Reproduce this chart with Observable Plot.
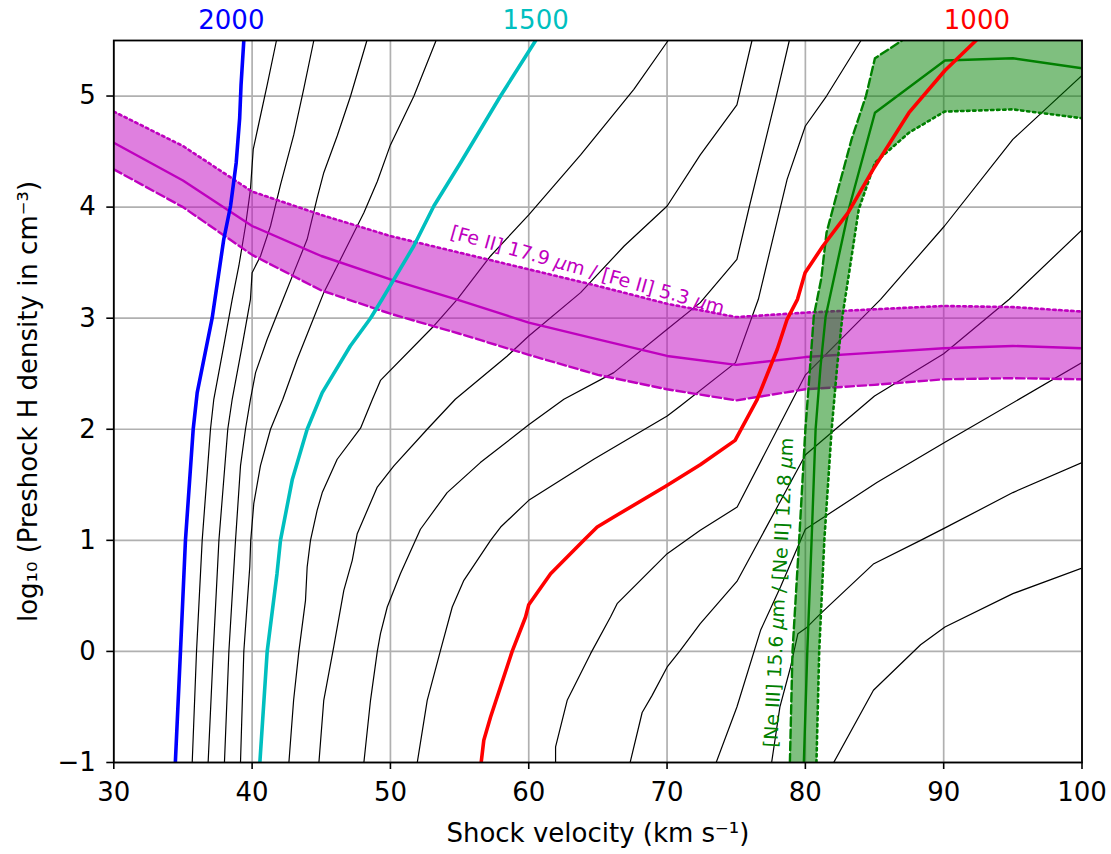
<!DOCTYPE html>
<html><head><meta charset="utf-8">
<script src="https://cdn.jsdelivr.net/npm/d3@7"></script>
<script src="https://cdn.jsdelivr.net/npm/@observablehq/plot@0.6"></script>
<style>
body{margin:0;background:#fff;}
svg{font-family:"DejaVu Sans",sans-serif;}
</style>
</head><body><div id="chart"></div>
<script>
// ---------- tick values ----------
const xTicks = [30, 40, 50, 60, 70, 80, 90, 100];
const yTicks = [-1, 0, 1, 2, 3, 4, 5];

// ---------- black contour lines (velocity, log density) ----------
const c1900 = [[35.67,-1],[35.98,0],[36.39,1],[36.99,2],[37.23,2.27],[37.95,2.75],[38.56,3.17],[39.04,3.47],[39.52,3.83],[39.88,4.16],[40.08,4.52],[40.41,4.71],[41.09,5.1],[41.76,5.5]];
const c1800 = [[36.82,-1],[37.19,0],[37.6,1],[38.24,2],[38.56,2.27],[39.28,2.75],[39.88,3.17],[40.0,3.41],[40.61,3.56],[41.33,3.83],[42.05,4.2],[43.01,4.65],[43.74,5.07],[44.46,5.5]];
const c1700 = [[38.0,-1],[38.32,0],[38.8,1],[39.16,1.67],[39.52,2],[39.88,2.27],[40.25,2.51],[41.09,2.81],[42.24,3.17],[43.01,3.41],[43.98,3.71],[44.7,4.08],[45.18,4.31],[46.15,4.64],[47.12,5.0],[48.3,5.5]];
const c1600 = [[39.16,-1],[39.4,0],[39.83,0.76],[39.9,1.0],[40.12,1.33],[40.6,1.67],[41.33,2.0],[42.22,2.27],[43.26,2.63],[44.22,2.93],[45.18,3.23],[46.15,3.47],[47.12,3.71],[48.08,3.95],[49.05,4.23],[50.0,4.56],[51.7,5.0],[53.3,5.5]];
const c1400 = [[42.66,-1],[43.0,-0.44],[43.38,0],[43.86,0.46],[43.98,0.76],[44.22,1.0],[44.7,1.27],[45.07,1.43],[46.15,1.73],[47.84,2.01],[48.7,2.27],[49.28,2.44],[53.14,2.93],[54.83,3.17],[57.24,3.56],[60.0,3.93],[63.75,4.47],[67.6,5.06],[70.08,5.5]];
const c1300 = [[44.83,-1],[45.18,-0.44],[45.9,0.04],[46.63,0.55],[47.24,0.82],[47.6,1.06],[49.05,1.48],[50.25,1.67],[52.66,2.0],[54.69,2.27],[58.45,2.66],[60.0,2.84],[63.75,3.23],[66.9,3.65],[70.01,4.01],[72.4,4.47],[75.05,4.92],[76.14,5.5]];
const c1200 = [[48.08,-1],[48.56,-0.44],[49.05,0.0],[49.28,0.16],[49.77,0.40],[50.72,0.70],[52.17,1.1],[54.1,1.43],[56.5,1.7],[60.0,2.04],[62.54,2.27],[66.15,2.51],[70.01,2.9],[72.4,3.14],[75.05,3.53],[75.96,4.01],[77.9,5.0],[78.84,5.5]];
const c1100 = [[51.94,-1],[52.66,-0.44],[53.62,0.01],[54.47,0.40],[55.31,0.64],[57.24,1.0],[57.97,1.12],[60.0,1.36],[64.7,1.73],[70.01,2.12],[70.96,2.21],[74.95,2.6],[76.6,3.17],[78.68,4.25],[80.0,4.73],[81.53,5.0],[84.02,5.5]];
const c900  = [[61.94,-1],[61.94,-0.86],[62.78,-0.44],[64.47,-0.02],[65.91,0.31],[66.39,0.43],[70.01,0.88],[72.4,1.09],[75.07,1.30],[80.01,2.49],[85.44,3.17],[90.06,3.83],[95.0,4.61],[100,5.185]];
const c800  = [[67.33,-1],[68.2,-0.55],[68.9,-0.4],[70.01,-0.14],[70.96,0.01],[72.4,0.25],[75.05,0.63],[80.01,1.77],[85.0,2.3],[90.0,2.68],[94.74,3.17],[100,3.795]];
const c700  = [[73.55,-1],[75.05,-0.5],[76.76,0.19],[78.2,0.58],[80.0,1.1],[85.17,1.52],[90.06,1.88],[100,2.6]];
const c600  = [[77.56,-1],[78.16,-0.5],[78.93,-0.14],[79.46,0.16],[80.05,0.21],[81.1,0.34],[84.95,0.79],[88.33,1.0],[90.06,1.11],[95.0,1.43],[100,1.70]];
const c500  = [[82.05,-1],[84.92,-0.35],[88.33,0.06],[90.09,0.22],[95.0,0.52],[100,0.75]];

// ---------- labelled (coloured) contour lines ----------
const c2000 = [[34.45,-1],[34.82,0],[35.18,1],[35.74,2],[36.03,2.33],[37.11,3.0],[37.95,3.71],[38.44,4.01],[38.85,4.4],[39.1,4.8],[39.2,5.1],[39.4,5.5]];
const c1500 = [[40.56,-1],[41.09,0],[41.8,0.7],[42.05,1],[42.9,1.545],[43.98,2],[45.07,2.33],[47.1,2.75],[48.56,3],[49.4,3.17],[51.69,3.65],[53.14,4.01],[55.07,4.4],[57.96,5.0],[60.5,5.5]];
const c1000 = [[56.56,-1],[56.75,-0.8],[57.24,-0.59],[58.8,0.0],[59.77,0.31],[60.0,0.42],[61.58,0.70],[63.98,1.0],[64.95,1.12],[66.15,1.21],[69.87,1.485],[72.4,1.68],[74.92,1.90],[76.52,2.27],[77.97,2.72],[78.68,2.99],[79.43,3.17],[79.98,3.41],[81.27,3.65],[83.09,3.95],[84.9,4.34],[87.49,4.85],[90.09,5.23],[92.34,5.5]];

// ---------- [Fe II] ratio band ----------
const feV    = [30, 35, 40, 45, 50, 55, 60, 65, 70, 75, 80, 85, 90, 95, 100];
const feMid  = [4.58, 4.24, 3.83, 3.56, 3.35, 3.16, 2.96, 2.81, 2.66, 2.58, 2.65, 2.69, 2.73, 2.75, 2.73];
const feHigh = [4.86, 4.55, 4.14, 3.93, 3.74, 3.59, 3.44, 3.29, 3.13, 3.01, 3.05, 3.08, 3.11, 3.10, 3.06];
const feLow  = [4.34, 4.00, 3.57, 3.25, 3.04, 2.86, 2.67, 2.49, 2.36, 2.26, 2.36, 2.40, 2.45, 2.46, 2.45];

// ---------- [Ne III]/[Ne II] ratio band ----------
const neDashed = [[78.88,-1],[79.07,0],[79.55,1],[80.0,2],[80.25,2.41],[80.61,3.02],[81.14,3.35],[81.53,3.77],[82.3,4.13],[83.34,4.61],[84.38,5.0],[85.03,5.34],[86.98,5.5]];
const neMid    = [[79.89,-1],[80.14,0],[80.45,1],[80.74,2],[81.1,2.57],[81.46,3.01],[82.05,3.35],[83.2,4.01],[85.03,4.85],[90.09,5.32],[95,5.34],[100,5.25]];
const neDotted = [[80.8,-1],[81.0,0],[81.37,1],[81.9,2],[82.3,2.57],[82.67,3.01],[83.09,3.35],[83.86,3.98],[85.03,4.40],[87.49,4.67],[90.06,4.86],[95,4.88],[100,4.80]];
const neCorner = [[100,5.5]];

// ---------- text ----------
const topLabels = [{v: 38.5, t: "2000", c: "#0000ff"}, {v: 60.5, t: "1500", c: "#00bfbf"}, {v: 92.4, t: "1000", c: "#ff0000"}];
const feLabel = {x: 64.25, y: 3.43, text: "[Fe II] 17.9 μm / [Fe II] 5.3 μm"};
const neLabel = {x: 78.1, y: 0.53, text: "[Ne III] 15.6 μm / [Ne II] 12.8 μm"};
const xLabel = "Shock velocity (km s⁻¹)";
const yLabel = "log₁₀ (Preshock H density in cm⁻³)";

// ---------- build tables ----------
const toPts = (arr) => arr.map(([x, y]) => ({x, y}));
const blackSets = {1900: c1900, 1800: c1800, 1700: c1700, 1600: c1600, 1400: c1400, 1300: c1300, 1200: c1200, 1100: c1100, 900: c900, 800: c800, 700: c700, 600: c600, 500: c500};
const blackData = Object.entries(blackSets).flatMap(([lev, arr]) => arr.map(([x, y]) => ({x, y, lev})));
const feData = feV.map((v, i) => ({x: v, mid: feMid[i], hi: feHigh[i], lo: feLow[i]}));
const nePoly = toPts([...neDashed, ...neCorner, ...neDotted.slice().reverse()]);
const fmt = d => (d < 0 ? "\u2212" + Math.abs(d) : String(d));

const MAG = "#bf00bf", GRN = "#008000";

const chart = Plot.plot({
  width: 1111,
  height: 854,
  marginLeft: 113.3,
  marginRight: 29.5,
  marginTop: 40,
  marginBottom: 92,
  x: {domain: [30, 100]},
  y: {domain: [-1, 5.5]},
  style: {fontFamily: "DejaVu Sans", background: "#fff"},
  marks: [
    Plot.gridX(xTicks, {stroke: "#b0b0b0", strokeOpacity: 1, strokeWidth: 1.7}),
    Plot.gridY(yTicks, {stroke: "#b0b0b0", strokeOpacity: 1, strokeWidth: 1.7}),
    Plot.line(blackData, {x: "x", y: "y", z: "lev", stroke: "black", strokeWidth: 1.2, clip: true}),
    Plot.areaY(feData, {x: "x", y1: "lo", y2: "hi", fill: MAG, fillOpacity: 0.5, clip: true}),
    Plot.line(feData, {x: "x", y: "mid", stroke: MAG, strokeWidth: 2.4, clip: true}),
    Plot.line(feData, {x: "x", y: "hi", stroke: MAG, strokeWidth: 2.6, strokeDasharray: "2.4,3.6", clip: true}),
    Plot.line(feData, {x: "x", y: "lo", stroke: MAG, strokeWidth: 2.4, strokeDasharray: "8.5,3.7", clip: true}),
    Plot.line(nePoly, {x: "x", y: "y", fill: GRN, fillOpacity: 0.5, stroke: "none", clip: true}),
    Plot.line(toPts(neMid), {x: "x", y: "y", stroke: GRN, strokeWidth: 2.4, clip: true}),
    Plot.line(toPts(neDashed), {x: "x", y: "y", stroke: GRN, strokeWidth: 2.4, strokeDasharray: "8.5,3.7", clip: true}),
    Plot.line(toPts(neDotted), {x: "x", y: "y", stroke: GRN, strokeWidth: 2.6, strokeDasharray: "2.4,3.6", clip: true}),
    Plot.line(toPts(c2000), {x: "x", y: "y", stroke: "#0000ff", strokeWidth: 3.6, clip: true}),
    Plot.line(toPts(c1500), {x: "x", y: "y", stroke: "#00bfbf", strokeWidth: 3.6, clip: true}),
    Plot.line(toPts(c1000), {x: "x", y: "y", stroke: "#ff0000", strokeWidth: 3.6, clip: true}),
    Plot.frame({stroke: "black", strokeWidth: 1.8}),
    Plot.axisX(xTicks, {tickSize: 7, tickPadding: 13, fontSize: 26, strokeWidth: 1.6, label: null, fill: "black", tickFormat: fmt}),
    Plot.axisY(yTicks, {tickSize: 7, tickPadding: 11, fontSize: 26, strokeWidth: 1.6, label: null, fill: "black", tickFormat: fmt}),
    Plot.text(topLabels, {x: "v", y: () => 5.5, text: "t", fill: "c", dy: -20, fontSize: 26, lineAnchor: "middle"}),
    Plot.text([feLabel], {x: "x", y: "y", text: "text", rotate: 15.7, fill: MAG, fontSize: 19}),
    Plot.text([neLabel], {x: "x", y: "y", text: "text", rotate: -87, fill: GRN, fontSize: 19}),
    Plot.text([xLabel], {frameAnchor: "bottom", text: d => d, dy: 71, fontSize: 26, textAnchor: "middle", lineAnchor: "middle", fill: "black"}),
    Plot.text([yLabel], {frameAnchor: "left", text: d => d, dx: -85, rotate: -90, fontSize: 26, textAnchor: "middle", lineAnchor: "middle", fill: "black"})
  ]
});
// italicise the Greek mu as in the reference's math text
d3.select(chart).selectAll("text").each(function () {
  const el = d3.select(this);
  const s = el.text();
  if (!s.includes("μ")) return;
  const parts = s.split("μ");
  el.text(null);
  parts.forEach((p, i) => {
    if (i > 0) el.append("tspan").attr("font-style", "italic").text("μ");
    el.append("tspan").text(p);
  });
});
document.getElementById("chart").appendChild(chart);
</script>
</body></html>
